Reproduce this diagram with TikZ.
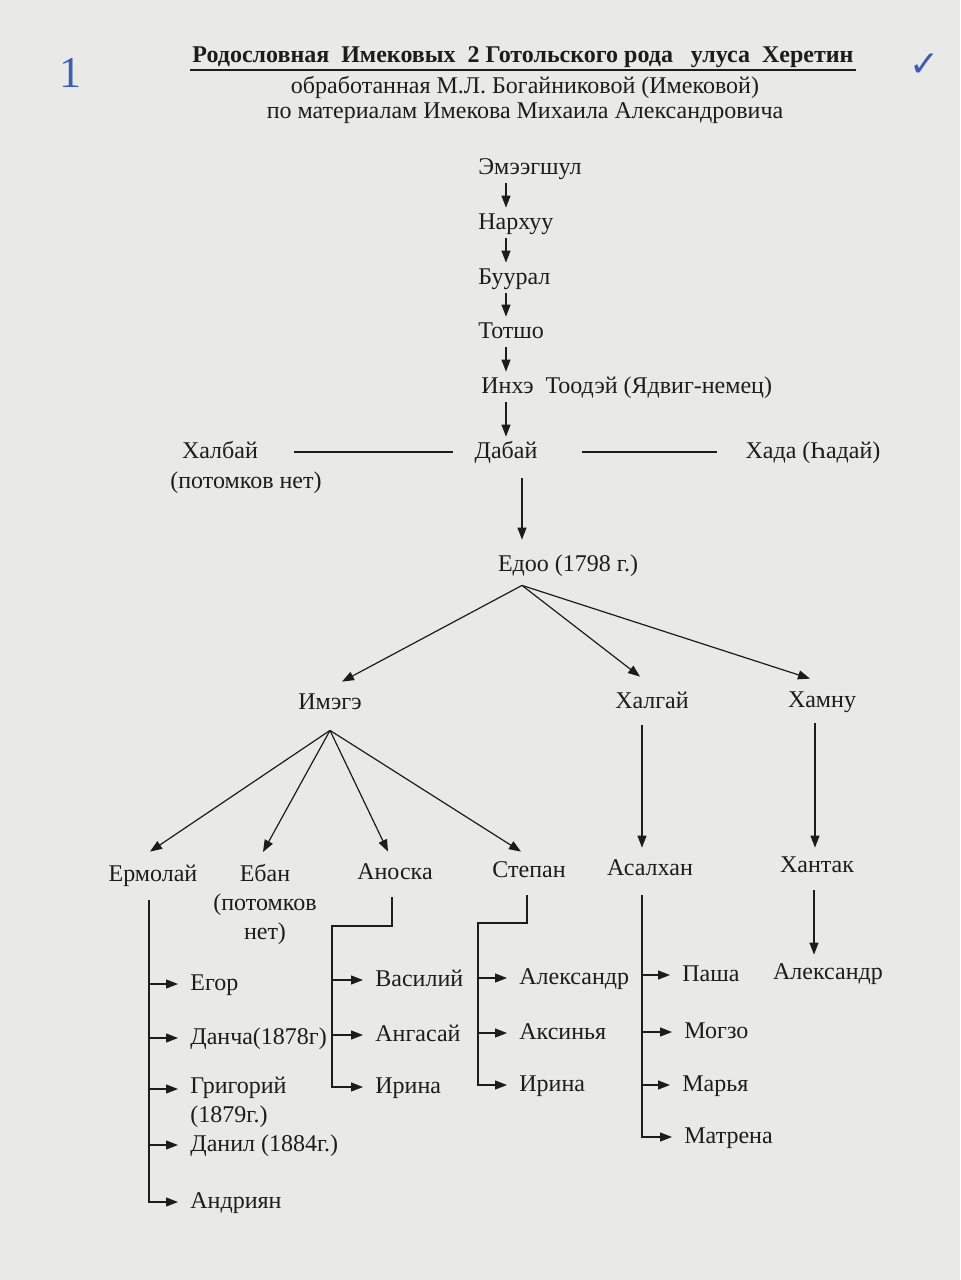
\documentclass[tikz,border=0pt]{standalone}
\usepackage{fontspec}
\setmainfont{Liberation Serif}
\newfontfamily\tickfont{DejaVu Sans}
\usepackage{xcolor}
\usepackage{tikz}
\usetikzlibrary{arrows.meta, positioning}

\definecolor{paper}{HTML}{E9E9E7}
\definecolor{ink}{HTML}{1C1C1C}
\definecolor{pen}{HTML}{3E5BB5}

\begin{document}
\begin{tikzpicture}[x=0.5pt, y=-0.5pt, font=\fontsize{12}{14.5}\selectfont, color=ink,
  >={Triangle[length=6pt,width=4.5pt]},
  person/.style={inner sep=2pt, text height=8.5pt, text depth=2.5pt},
  kid/.style={person, anchor=west, inner xsep=6pt},
  kidlines/.style={inner sep=2pt, inner xsep=6pt, align=left, anchor=north west},
  link/.style={->, line width=0.6pt},
  plain/.style={line width=0.6pt}]

\fill[paper] (0,0) rectangle (960,1280);
\useasboundingbox (0,0) rectangle (960,1280);

% Heading
\node[inner sep=1pt] (title) at (523,57) {\bfseries Родословная\ \ Имековых\ \ 2 Готольского рода\ \ \ улуса\ \ Херетин};
\draw[line width=1pt] (title.south west) -- (title.south east);
\node (sub1) at (525,87) {обработанная М.Л. Богайниковой (Имековой)};
\node (sub2) at (525,113) {по материалам Имекова Михаила Александровича};
\node[text=pen] (num) at (70,73) {\fontsize{22}{22}\selectfont 1};
\node[text=pen] (tick) at (925,65) {\tickfont\fontsize{18}{18}\selectfont ✓};

% Nodes
\node[person, anchor=west] (emeeg) at (474,168) {Эмээгшул};
\node[person, anchor=west] (narhuu) at (474,223) {Нархуу};
\node[person, anchor=west] (buural) at (474,278) {Буурал};
\node[person, anchor=west] (totsho) at (474,332) {Тотшо};
\node[person, anchor=west] (inhe) at (477,387) {Инхэ\ \ Тоодэй (Ядвиг-немец)};

\node[person] (dabay) at (506,452) {Дабай};
\node[person] (halbay) at (220,452) {Халбай};
\node[person] (halbaynote) at (246,482) {(потомков нет)};
\node[person] (hada) at (813,452) {Хада (Һадай)};

\node[person] (edoo) at (568,565) {Едоо (1798 г.)};

\node[person] (imege) at (330,703) {Имэгэ};
\node[person] (halgay) at (652,702) {Халгай};
\node[person] (hamnu) at (822,701) {Хамну};

\node[person] (ermolay) at (153,875) {Ермолай};
\node[align=center, anchor=north, inner sep=2pt] (eban) at (265,860) {Ебан\\(потомков\\нет)};
\node[person] (anoska) at (395,873) {Аноска};
\node[person] (stepan) at (529,871) {Степан};
\node[person] (asalhan) at (650,869) {Асалхан};
\node[person] (hantak) at (817,866) {Хантак};
\node[person] (aleksB) at (828,973) {Александр};

\node[kid] (egor) at (178,984) {Егор};
\node[kid] (dancha) at (178,1038) {Данча(1878г)};
\node[kidlines] (grig) at (178,1073) {Григорий\\(1879г.)};
\node[kid] (danil) at (178,1145) {Данил (1884г.)};
\node[kid] (andriyan) at (178,1202) {Андриян};

\node[kid] (vasiliy) at (363,980) {Василий};
\node[kid] (angasay) at (363,1035) {Ангасай};
\node[kid] (irinaA) at (363,1087) {Ирина};

\node[kid] (aleksA) at (507,978) {Александр};
\node[kid] (aksinya) at (507,1033) {Аксинья};
\node[kid] (irinaS) at (507,1085) {Ирина};

\node[kid] (pasha) at (670,975) {Паша};
\node[kid] (mogzo) at (672,1032) {Могзо};
\node[kid] (marya) at (670,1085) {Марья};
\node[kid] (matrena) at (672,1137) {Матрена};

% Helper points
\coordinate (spine) at (506,0);
\coordinate (stem) at (522,0);
\coordinate (edooRoot) at ([yshift=-2.5pt]stem |- edoo.south);
\coordinate (imegeRoot) at ([yshift=-6pt]imege.south);
\coordinate (grigpt) at ([yshift=-8pt]grig.north west);
\coordinate (erTop) at ([xshift=-2pt,yshift=-5pt]ermolay.south);
\coordinate (anBend) at (332,926);
\coordinate (stBend) at (478,923);
\coordinate (asTop) at ([xshift=-4pt,yshift=-5.5pt]asalhan.south);

% Arrows
\draw[link] (spine |- emeeg.south) -- (spine |- narhuu.north);
\draw[link] (spine |- narhuu.south) -- (spine |- buural.north);
\draw[link] (spine |- buural.south) -- (spine |- totsho.north);
\draw[link] (spine |- totsho.south) -- (spine |- inhe.north);
\draw[link] (spine |- inhe.south) -- (dabay.north);

\draw[plain, shorten <=16pt, shorten >=8.5pt] (halbay.east) -- (dabay.west);
\draw[plain, shorten <=20pt, shorten >=12pt] (dabay.east) -- (hada.west);

\draw[link, shorten <=5.5pt, shorten >=5pt] (stem |- dabay.south) -- (stem |- edoo.north);

\draw[link] (edooRoot) -- ([xshift=6pt,yshift=3pt]imege.north);
\draw[link] (edooRoot) -- ([xshift=-6pt,yshift=5pt]halgay.north);
\draw[link] (edooRoot) -- ([xshift=-6pt,yshift=3.5pt]hamnu.north);

\draw[link] (imegeRoot) -- ([xshift=-1.5pt,yshift=4pt]ermolay.north);
\draw[link] (imegeRoot) -- ([xshift=-1pt,yshift=4pt]eban.north);
\draw[link] (imegeRoot) -- ([xshift=-3.5pt,yshift=3pt]anoska.north);
\draw[link] (imegeRoot) -- ([xshift=-4pt,yshift=2pt]stepan.north);

\draw[link] ([xshift=-5pt,yshift=-4pt]halgay.south) -- ([xshift=-4pt,yshift=3pt]asalhan.north);
\draw[link] ([xshift=-3.5pt,yshift=-3.5pt]hamnu.south) -- ([xshift=-1pt,yshift=1.5pt]hantak.north);
\draw[link] ([xshift=-1.5pt,yshift=-4.5pt]hantak.south) -- ([xshift=-7pt,yshift=1.5pt]aleksB.north);

\draw[link] (erTop) |- (andriyan.west);
\draw[link] (erTop |- egor.west) -- (egor.west);
\draw[link] (erTop |- dancha.west) -- (dancha.west);
\draw[link] (erTop |- grigpt) -- (grigpt);
\draw[link] (erTop |- danil.west) -- (danil.west);

\draw[link] ([xshift=-1.5pt,yshift=-4.5pt]anoska.south) |- (anBend) |- (irinaA.west);
\draw[link] (anBend |- vasiliy.west) -- (vasiliy.west);
\draw[link] (anBend |- angasay.west) -- (angasay.west);

\draw[link] ([xshift=-1pt,yshift=-4.5pt]stepan.south) |- (stBend) |- (irinaS.west);
\draw[link] (stBend |- aleksA.west) -- (aleksA.west);
\draw[link] (stBend |- aksinya.west) -- (aksinya.west);

\draw[link] (asTop) |- (matrena.west);
\draw[link] (asTop |- pasha.west) -- (pasha.west);
\draw[link] (asTop |- mogzo.west) -- (mogzo.west);
\draw[link] (asTop |- marya.west) -- (marya.west);

\end{tikzpicture}
\end{document}
